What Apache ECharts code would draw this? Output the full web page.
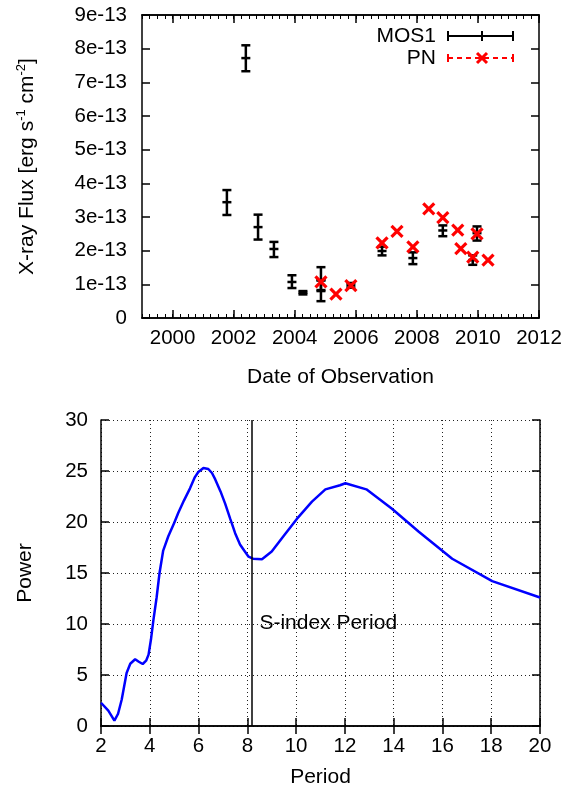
<!DOCTYPE html>
<html>
<head>
<meta charset="utf-8">
<script src="https://cdn.jsdelivr.net/npm/echarts@6/dist/echarts.min.js"></script>
<style>
  html, body { margin: 0; padding: 0; background: #fff; }
  #chart { width: 566px; height: 791px; }
</style>
</head>
<body>
<div id="chart"></div>
<script>
// top panel: X-ray flux per observation
var mosYear = [2001.78, 2002.40, 2002.80, 2003.32, 2003.91, 2004.27, 2004.86, 2004.86, 2005.84, 2006.86, 2007.87, 2008.85, 2009.83, 2009.97];
var mosFlux = [3.44e-13, 7.72e-13, 2.70e-13, 2.05e-13, 1.07e-13, 0.75e-13, 1.12e-13, 0.83e-13, 0.97e-13, 1.99e-13, 1.78e-13, 2.60e-13, 1.72e-13, 2.52e-13];
var mosLow  = [3.06e-13, 7.33e-13, 2.33e-13, 1.81e-13, 0.89e-13, 0.70e-13, 0.80e-13, 0.50e-13, 0.90e-13, 1.86e-13, 1.60e-13, 2.43e-13, 1.58e-13, 2.30e-13];
var mosHigh = [3.80e-13, 8.10e-13, 3.07e-13, 2.26e-13, 1.27e-13, 0.80e-13, 1.51e-13, 1.12e-13, 1.04e-13, 2.12e-13, 1.95e-13, 2.75e-13, 1.86e-13, 2.72e-13];

var pnYear = [2004.86, 2005.35, 2005.84, 2006.86, 2007.35, 2007.87, 2008.39, 2008.85, 2009.34, 2009.44, 2009.83, 2009.97, 2010.33];
var pnFlux = [1.07e-13, 0.71e-13, 0.96e-13, 2.23e-13, 2.57e-13, 2.11e-13, 3.24e-13, 2.98e-13, 2.61e-13, 2.06e-13, 1.81e-13, 2.50e-13, 1.72e-13];

var yearTicks = [2000, 2002, 2004, 2006, 2008, 2010, 2012];

// bottom panel: periodogram
var period = [2.0, 2.3, 2.55, 2.7, 2.85, 3.05, 3.2, 3.4, 3.55, 3.71, 3.85, 3.95, 4.05, 4.15, 4.28, 4.4, 4.55, 4.76, 5.0, 5.17, 5.4, 5.65, 5.85, 5.99, 6.2, 6.4, 6.55, 6.68, 6.9, 7.09, 7.3, 7.5, 7.7, 7.87, 8.05, 8.23, 8.6, 9.0, 9.48, 10.03, 10.65, 11.2, 11.8, 12.02, 12.88, 13.93, 15.03, 16.4, 18.04, 20.0];
var power  = [2.28, 1.5, 0.52, 1.2, 2.6, 5.2, 6.1, 6.54, 6.3, 6.08, 6.4, 7.0, 8.5, 10.4, 12.6, 15.0, 17.2, 18.6, 19.9, 20.9, 22.1, 23.3, 24.4, 24.9, 25.3, 25.2, 24.8, 24.2, 23.0, 21.8, 20.3, 18.9, 17.8, 17.2, 16.6, 16.4, 16.35, 17.1, 18.6, 20.3, 22.0, 23.2, 23.6, 23.8, 23.2, 21.3, 19.05, 16.4, 14.2, 12.6];
var sIndexPeriod = 8.2;

var FONT = 'Liberation Sans, Arial, sans-serif';
var chart = echarts.init(document.getElementById('chart'));

var axisLine = { show: true, lineStyle: { color: '#000', width: 1.5 } };
var lbl = { color: '#000', fontSize: 20.5, fontFamily: FONT };
var ttl = { color: '#000', fontSize: 21, fontFamily: FONT };
var bigTick = { show: true, inside: true, length: 8, lineStyle: { color: '#000', width: 1.5 } };
var smallTick = { show: true, inside: true, length: 4, lineStyle: { color: '#000', width: 1 } };

function errBars(params, api) {
  var c = api.coord([api.value(0), api.value(1)]);
  var lo = api.coord([api.value(0), api.value(2)]);
  var hi = api.coord([api.value(0), api.value(3)]);
  var w = 4.5, st = { stroke: '#000', lineWidth: 2.5 };
  return { type: 'group', children: [
    { type: 'line', shape: { x1: c[0], y1: hi[1], x2: c[0], y2: lo[1] }, style: st },
    { type: 'line', shape: { x1: c[0] - w, y1: hi[1], x2: c[0] + w, y2: hi[1] }, style: st },
    { type: 'line', shape: { x1: c[0] - w, y1: lo[1], x2: c[0] + w, y2: lo[1] }, style: st },
    { type: 'line', shape: { x1: c[0] - w, y1: c[1], x2: c[0] + w, y2: c[1] }, style: st }
  ]};
}

function crosses(params, api) {
  var c = api.coord([api.value(0), api.value(1)]);
  var s = 5.5, st = { stroke: '#ff0000', lineWidth: 3.2 };
  return { type: 'group', children: [
    { type: 'line', shape: { x1: c[0] - s, y1: c[1] - s, x2: c[0] + s, y2: c[1] + s }, style: st },
    { type: 'line', shape: { x1: c[0] - s, y1: c[1] + s, x2: c[0] + s, y2: c[1] - s }, style: st }
  ]};
}

function yearAxis(pos, minor, withLabels) {
  var ax = { gridIndex: 0, type: 'value', min: 1999, max: 2012, position: pos,
    axisLine: axisLine, splitLine: { show: false }, axisLabel: { show: false } };
  if (minor) {
    ax.interval = 0.25;
    ax.axisTick = smallTick;
  } else {
    ax.axisTick = Object.assign({ customValues: yearTicks }, bigTick);
  }
  if (withLabels) {
    ax.axisLabel = Object.assign({ margin: 10, customValues: yearTicks,
      formatter: function (v) { return String(v); } }, lbl);
    ax.name = 'Date of Observation';
    ax.nameLocation = 'middle';
    ax.nameGap = 49;
    ax.nameTextStyle = ttl;
  }
  return ax;
}

var option = {
  animation: false,
  textStyle: { fontFamily: FONT },
  grid: [
    { left: 142, top: 15, width: 397, height: 303 },
    { left: 101, top: 420, width: 439, height: 306 }
  ],
  xAxis: [
    yearAxis('bottom', false, true),
    yearAxis('bottom', true, false),
    yearAxis('top', false, false),
    yearAxis('top', true, false),
    { gridIndex: 1, type: 'value', min: 2, max: 20, interval: 2, position: 'bottom',
      name: 'Period', nameLocation: 'middle', nameGap: 41, nameTextStyle: ttl,
      axisLine: axisLine, axisTick: bigTick,
      splitLine: { show: true, lineStyle: { color: '#222', type: [1, 3], width: 1 } },
      axisLabel: Object.assign({ margin: 10 }, lbl) },
    { gridIndex: 1, type: 'value', min: 2, max: 20, interval: 2, position: 'top',
      axisLine: axisLine, splitLine: { show: false }, axisLabel: { show: false }, axisTick: bigTick }
  ],
  yAxis: [
    { gridIndex: 0, type: 'value', min: 0, max: 9e-13, interval: 1e-13, position: 'left',
      name: 'X-ray Flux [erg s{sup|-1} cm{sup|-2}]', nameLocation: 'middle', nameGap: 103, nameRotate: 90,
      nameTextStyle: Object.assign({ lineHeight: 24,
        rich: { sup: { fontSize: 13, verticalAlign: 'top', color: '#000', fontFamily: FONT } } }, ttl),
      axisLine: axisLine, splitLine: { show: false }, axisTick: bigTick,
      axisLabel: Object.assign({ margin: 15, formatter: function (v) {
        var n = Math.round(v / 1e-13); return n === 0 ? '0' : n + 'e-13'; } }, lbl) },
    { gridIndex: 0, type: 'value', min: 0, max: 9e-13, interval: 1e-13, position: 'right',
      axisLine: axisLine, splitLine: { show: false }, axisLabel: { show: false }, axisTick: bigTick },
    { gridIndex: 1, type: 'value', min: 0, max: 30, interval: 5, position: 'left',
      name: 'Power', nameLocation: 'middle', nameGap: 65, nameRotate: 90, nameTextStyle: ttl,
      axisLine: axisLine, axisTick: bigTick,
      splitLine: { show: true, lineStyle: { color: '#222', type: [1, 3], width: 1 } },
      axisLabel: Object.assign({ margin: 13 }, lbl) },
    { gridIndex: 1, type: 'value', min: 0, max: 30, interval: 5, position: 'right',
      axisLine: axisLine, splitLine: { show: false }, axisLabel: { show: false }, axisTick: bigTick }
  ],
  series: [
    { name: 'MOS1', type: 'custom', xAxisIndex: 0, yAxisIndex: 0, renderItem: errBars,
      encode: { x: 0, y: 1 },
      data: mosYear.map(function (y, i) { return [y, mosFlux[i], mosLow[i], mosHigh[i]]; }) },
    { name: 'PN', type: 'custom', xAxisIndex: 0, yAxisIndex: 0, renderItem: crosses,
      encode: { x: 0, y: 1 }, z: 3,
      data: pnYear.map(function (y, i) { return [y, pnFlux[i]]; }) },
    { name: 'Power', type: 'line', xAxisIndex: 4, yAxisIndex: 2, showSymbol: false, smooth: false,
      lineStyle: { color: '#0000ff', width: 2.5 },
      data: period.map(function (p, i) { return [p, power[i]]; }),
      markLine: { silent: true, symbol: 'none', label: { show: false },
        lineStyle: { color: '#000', width: 1.5, type: 'solid' },
        data: [{ xAxis: sIndexPeriod }] },
      markPoint: { symbol: 'circle', symbolSize: 0,
        label: { show: true, position: 'right', distance: 4, formatter: 'S-index Period',
          color: '#000', fontSize: 21, fontFamily: FONT },
        data: [{ coord: [8.33, 10.1] }] } }
  ],
  graphic: [
    { type: 'text', x: 436, y: 36, style: { text: 'MOS1', fill: '#000', font: '21px ' + FONT, align: 'right', verticalAlign: 'middle' } },
    { type: 'line', shape: { x1: 448, y1: 36, x2: 513, y2: 36 }, style: { stroke: '#000', lineWidth: 2 } },
    { type: 'line', shape: { x1: 448, y1: 31, x2: 448, y2: 41 }, style: { stroke: '#000', lineWidth: 2 } },
    { type: 'line', shape: { x1: 513, y1: 31, x2: 513, y2: 41 }, style: { stroke: '#000', lineWidth: 2 } },
    { type: 'line', shape: { x1: 482, y1: 31, x2: 482, y2: 41 }, style: { stroke: '#000', lineWidth: 2 } },
    { type: 'text', x: 436, y: 58, style: { text: 'PN', fill: '#000', font: '21px ' + FONT, align: 'right', verticalAlign: 'middle' } },
    { type: 'line', shape: { x1: 448, y1: 58, x2: 513, y2: 58 }, style: { stroke: '#ff0000', lineWidth: 2, lineDash: [5, 4] } },
    { type: 'line', shape: { x1: 448, y1: 54, x2: 448, y2: 62 }, style: { stroke: '#ff0000', lineWidth: 2 } },
    { type: 'line', shape: { x1: 513, y1: 54, x2: 513, y2: 62 }, style: { stroke: '#ff0000', lineWidth: 2 } },
    { type: 'line', shape: { x1: 477, y1: 53, x2: 487, y2: 63 }, style: { stroke: '#ff0000', lineWidth: 3 } },
    { type: 'line', shape: { x1: 477, y1: 63, x2: 487, y2: 53 }, style: { stroke: '#ff0000', lineWidth: 3 } }
  ]
};

chart.setOption(option);
</script>
</body>
</html>
